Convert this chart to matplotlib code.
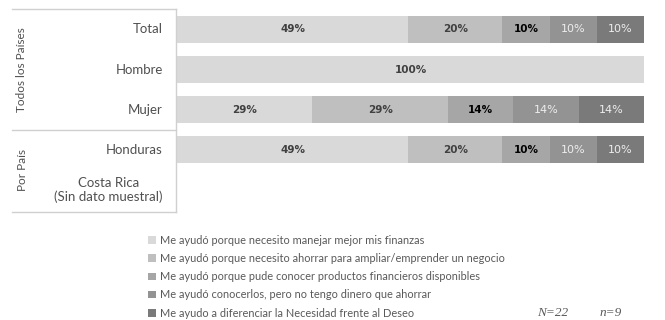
import matplotlib.pyplot as plt
from matplotlib.patches import Patch
import matplotlib.transforms as mtransforms
import numpy as np

plt.rcParams["font.family"] = ["Lato", "DejaVu Sans"]

rows = ["Total", "Hombre", "Mujer", "Honduras", "Costa Rica\n(Sin dato muestral)"]

# porcentajes por motivo (cada fila en su propio orden de segmentos)
seg1 = [49, 100, 29, 49, 0]
seg2 = [20, 0, 29, 20, 0]
seg3 = [10, 0, 14, 10, 0]
seg4 = [10, 0, 14, 10, 0]
seg5 = [10, 0, 14, 10, 0]

motivos = [
    "Me ayudó porque necesito manejar mejor mis finanzas",
    "Me ayudó porque necesito ahorrar para ampliar/emprender un negocio",
    "Me ayudó porque pude conocer productos financieros disponibles",
    "Me ayudó conocerlos, pero no tengo dinero que ahorrar",
    "Me ayudo a diferenciar la Necesidad frente al Deseo",
]

colores = ["#d9d9d9", "#bfbfbf", "#a6a6a6", "#939393", "#7a7a7a"]
txt_color = ["#404040", "#404040", "#000000", "#eeeeee", "#eeeeee"]
txt_weight = ["bold", "bold", "bold", "normal", "normal"]
txt_size = [7.5, 7.5, 7.5, 8, 8]

data = np.array([seg1, seg2, seg3, seg4, seg5], dtype=float)
totals = data.sum(axis=0)
share = np.divide(data, totals, out=np.zeros_like(data), where=totals > 0) * 100

fig = plt.figure(figsize=(6.65, 3.2), dpi=100)
ax = fig.add_axes([177 / 665, 1 - 212 / 320, 467 / 665, 203 / 320])

y = np.arange(len(rows))
left = np.zeros(len(rows))
for i in range(5):
    ax.barh(y, share[i], left=left, height=0.67, color=colores[i], edgecolor="none")
    for j in range(len(rows)):
        if data[i, j] > 0:
            ax.text(left[j] + share[i, j] / 2, y[j], f"{int(data[i, j])}%",
                    ha="center", va="center", fontsize=txt_size[i], family=["DejaVu Sans"],
                    color=txt_color[i], fontweight=txt_weight[i])
    left += share[i]

ax.set_xlim(0, 100)
ax.set_ylim(4.55, -0.51)
ax.axis("off")

trans = mtransforms.blended_transform_factory(ax.transAxes, ax.transData)

# etiquetas de filas
for j, r in enumerate(rows):
    ax.text(-0.03, y[j], r, transform=trans, ha="right", va="center",
            multialignment="center", fontsize=9.5, color="#505050")

# marco de la tabla a la izquierda
x0 = (12 - 177) / 467
x1 = -0.002
lc = "#d0d0d0"
for yy in [-0.51, 2.5, 4.55]:
    ax.plot([x0, x1], [yy, yy], transform=trans, color=lc, lw=1, clip_on=False)
ax.plot([x1, x1], [-0.51, 4.55], transform=trans, color=lc, lw=1, clip_on=False)

# etiquetas de grupo
gx = (22 - 177) / 467
ax.text(gx, 1.0, "Todos los Países", transform=trans, rotation=90,
        ha="center", va="center", fontsize=8.5, color="#505050")
ax.text(gx, 3.5, "Por País", transform=trans, rotation=90,
        ha="center", va="center", fontsize=8.5, color="#505050")

handles = [Patch(facecolor=c, edgecolor="none") for c in colores]
leg = fig.legend(handles, motivos, loc="upper left", bbox_to_anchor=(148 / 665, 1 - 235 / 320),
                 frameon=False, fontsize=7.9, handlelength=0.7, handleheight=0.7,
                 handletextpad=0.35, labelspacing=0.65, borderaxespad=0, borderpad=0)
for t in leg.get_texts():
    t.set_color("#595959")

fig.text(537 / 665, 1 - 313 / 320, "N=22", family="Liberation Serif", style="italic",
         fontsize=9.5, color="#595959", va="center")
fig.text(600 / 665, 1 - 313 / 320, "n=9", family="Liberation Serif", style="italic",
         fontsize=9.5, color="#595959", va="center")

fig.savefig("out.png", dpi=100)
